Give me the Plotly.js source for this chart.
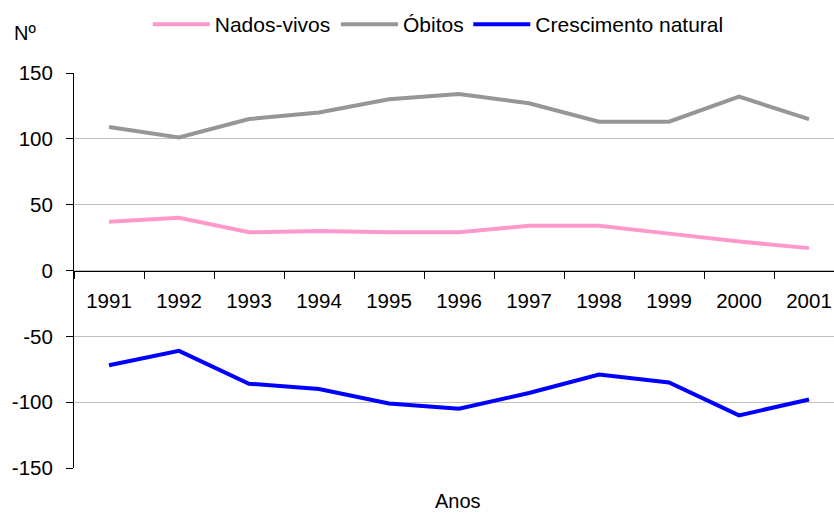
<!DOCTYPE html>
<html>
<head>
<meta charset="utf-8">
<script src="https://cdn.plot.ly/plotly-3.0.1.min.js"></script>
<style>
html,body{margin:0;padding:0;background:#fff;}
#chart{width:834px;height:515px;}
</style>
</head>
<body>
<div id="chart"></div>
<script>
var anos = ['1991','1992','1993','1994','1995','1996','1997','1998','1999','2000','2001'];
var nadosVivos = [37, 40, 29, 30, 29, 29, 34, 34, 28, 22, 17];
var obitos = [109, 101, 115, 120, 130, 134, 127, 113, 113, 132, 115];
var crescimentoNatural = [-72, -61, -86, -90, -101, -105, -93, -79, -85, -110, -98];
var yTicks = [-150, -100, -50, 0, 50, 100, 150];
var yTickText = ['-150', '-100', '-50', '0', '50', '100', '150'];

var FONT = 'Liberation Sans, Arial, sans-serif';
var legendFont = {family: FONT, size: 21, color: '#000'};

var traces = [
  {x: anos, y: nadosVivos, name: 'Nados-vivos', type: 'scatter', mode: 'lines',
   legend: 'legend', line: {color: '#FF99CC', width: 4}},
  {x: anos, y: obitos, name: 'Óbitos', type: 'scatter', mode: 'lines',
   legend: 'legend2', line: {color: '#969696', width: 4}},
  {x: anos, y: crescimentoNatural, name: 'Crescimento natural', type: 'scatter', mode: 'lines',
   legend: 'legend3', line: {color: '#0000FF', width: 4}}
];

function leg(x) {
  return {orientation: 'h', x: x, xanchor: 'left', y: 1.1228, yanchor: 'middle',
          itemwidth: 57, font: legendFont, bgcolor: 'rgba(0,0,0,0)', borderwidth: 0};
}

var layout = {
  width: 834, height: 515,
  margin: {l: 74, r: 0, t: 73, b: 47},
  paper_bgcolor: '#fff', plot_bgcolor: '#fff',
  font: {family: FONT, size: 20, color: '#000'},
  showlegend: true,
  legend: leg(0.097),
  legend2: leg(0.3447),
  legend3: leg(0.5188),
  xaxis: {
    type: 'category',
    range: [-0.5, 10.357],
    anchor: 'free', position: 0.5,
    showline: true, linecolor: '#000', linewidth: 1,
    showgrid: false, zeroline: false,
    ticks: 'outside', tickson: 'boundaries', ticklen: 7, tickcolor: '#000', tickwidth: 1,
    ticklabelstandoff: 12,
    tickfont: {family: FONT, size: 20.5, color: '#000'},
    fixedrange: true
  },
  yaxis: {
    range: [-150, 150],
    tickvals: yTicks,
    ticktext: yTickText,
    showline: true, linecolor: '#000', linewidth: 1,
    showgrid: true, gridcolor: '#C0C0C0', gridwidth: 1,
    zeroline: false,
    ticks: 'outside', ticklen: 7, tickcolor: '#000', tickwidth: 1,
    ticklabelstandoff: 9,
    tickfont: {family: FONT, size: 20.5, color: '#000'},
    fixedrange: true
  },
  annotations: [
    {text: 'Nº', xref: 'paper', yref: 'paper', x: -0.082, y: 1.1, xanchor: 'left', yanchor: 'middle',
     showarrow: false, font: {family: FONT, size: 20, color: '#000'}},
    {text: 'Anos', xref: 'paper', yref: 'paper', x: 0.505, y: -0.0835, xanchor: 'center', yanchor: 'middle',
     borderpad: 0, showarrow: false, font: {family: FONT, size: 20, color: '#000'}}
  ]
};

Plotly.newPlot('chart', traces, layout, {displayModeBar: false, staticPlot: true});
</script>
</body>
</html>
